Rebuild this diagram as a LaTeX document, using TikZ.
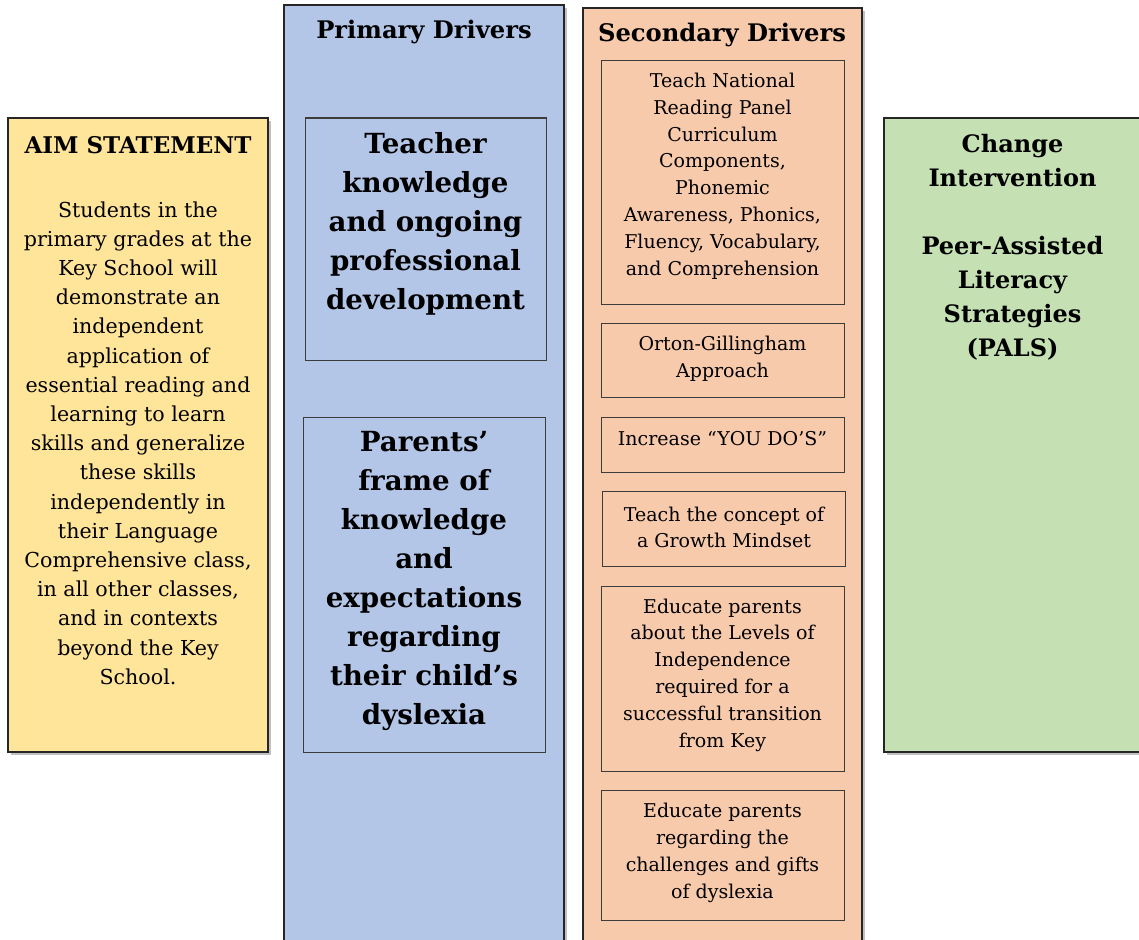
\documentclass[tikz,border=0pt]{standalone}
\usepackage{fontspec}
\setmainfont{DejaVu Serif}
\usetikzlibrary{shadows}
\definecolor{aimfill}{HTML}{FFE599}
\definecolor{primfill}{HTML}{B4C6E7}
\definecolor{secfill}{HTML}{F7CAAC}
\definecolor{chgfill}{HTML}{C5E0B3}
\definecolor{edge}{HTML}{262626}
\tikzset{
  panel/.style={draw=edge, line width=1.5pt, inner sep=0pt, outer sep=0pt,
    drop shadow={shadow xshift=3pt, shadow yshift=-3pt, opacity=0.4, fill=black!60}},
  inbox/.style={draw=edge!90, line width=1pt, inner sep=0pt, outer sep=0pt},
  txt/.style={align=center, inner sep=0pt, text=black},
  bodytxt/.style={txt, font=\fontsize{20.6}{29.2}\selectfont},
  sectxt/.style={txt, font=\fontsize{19}{26.8}\selectfont},
  headtxt/.style={txt, font=\bfseries\fontsize{24.2}{30}\selectfont},
  aimheadtxt/.style={txt, font=\bfseries\fontsize{23}{30}\selectfont},
  bigtxt/.style={txt, font=\bfseries\fontsize{27.7}{39}\selectfont},
  chgtxt/.style={txt, font=\bfseries\fontsize{24}{34}\selectfont},
}
\begin{document}
\begin{tikzpicture}[x=1pt,y=-1pt]
\clip (0,0) rectangle (1139,939);
\fill[white] (0,0) rectangle (1139,939);
% aim statement
\node[panel, fill=aimfill, minimum width=260pt, minimum height=634pt] (aim) at (138,435) {};
\node[aimheadtxt] (aimhead) at (138,145) {AIM STATEMENT};
\node[bodytxt] (aimbody) at (138,443) {Students in the\\primary grades at the\\Key School will\\demonstrate an\\independent\\application of\\essential reading and\\learning to learn\\skills and generalize\\these skills\\independently in\\their Language\\Comprehensive class,\\in all other classes,\\and in contexts\\beyond the Key\\School.};
% primary drivers
\node[panel, fill=primfill, minimum width=280pt, minimum height=960pt] (prim) at (424,485) {};
\node[headtxt] (primhead) at (424,32) {Primary Drivers};
\node[inbox, minimum width=241pt, minimum height=242pt] (teach) at (425.5,239) {};
\node[bigtxt] (teachtxt) at (425.5,224) {Teacher\\knowledge\\and ongoing\\professional\\development};
\node[inbox, minimum width=242pt, minimum height=335pt] (par) at (424,584.5) {};
\node[bigtxt] (partxt) at (424,581) {Parents’\\frame of\\knowledge\\and\\expectations\\regarding\\their child’s\\dyslexia};
% secondary drivers
\node[panel, fill=secfill, minimum width=279pt, minimum height=960pt] (sec) at (722.5,488) {};
\node[headtxt] (sechead) at (722,35) {Secondary Drivers};
\node[inbox, minimum width=243pt, minimum height=243pt] (s1) at (722.5,182.5) {};
\node[sectxt] (s1t) at (722.5,176) {Teach National\\Reading Panel\\Curriculum\\Components,\\Phonemic\\Awareness, Phonics,\\Fluency, Vocabulary,\\and Comprehension};
\node[inbox, minimum width=243pt, minimum height=74pt] (s2) at (722.5,360) {};
\node[sectxt] (s2t) at (722.5,358.5) {Orton-Gillingham\\Approach};
\node[inbox, minimum width=243pt, minimum height=55pt] (s3) at (722.5,444.5) {};
\node[sectxt] (s3t) at (722.5,439) {Increase “YOU DO’S”};
\node[inbox, minimum width=243pt, minimum height=75pt] (s4) at (723.5,528.5) {};
\node[sectxt] (s4t) at (724,527.5) {Teach the concept of\\a Growth Mindset};
\node[inbox, minimum width=243pt, minimum height=185pt] (s5) at (722.5,678.5) {};
\node[sectxt] (s5t) at (722.5,675) {Educate parents\\about the Levels of\\Independence\\required for a\\successful transition\\from Key};
\node[inbox, minimum width=243pt, minimum height=130pt] (s6) at (722.5,855) {};
\node[sectxt] (s6t) at (722.5,853) {Educate parents\\regarding the\\challenges and gifts\\of dyslexia};
% change intervention
\node[panel, fill=chgfill, minimum width=276pt, minimum height=634pt] (chg) at (1022,435) {};
\node[chgtxt] (chgtxt) at (1012.5,247) {Change\\Intervention\\[34pt]Peer-Assisted\\Literacy\\Strategies\\(PALS)};
\end{tikzpicture}
\end{document}
